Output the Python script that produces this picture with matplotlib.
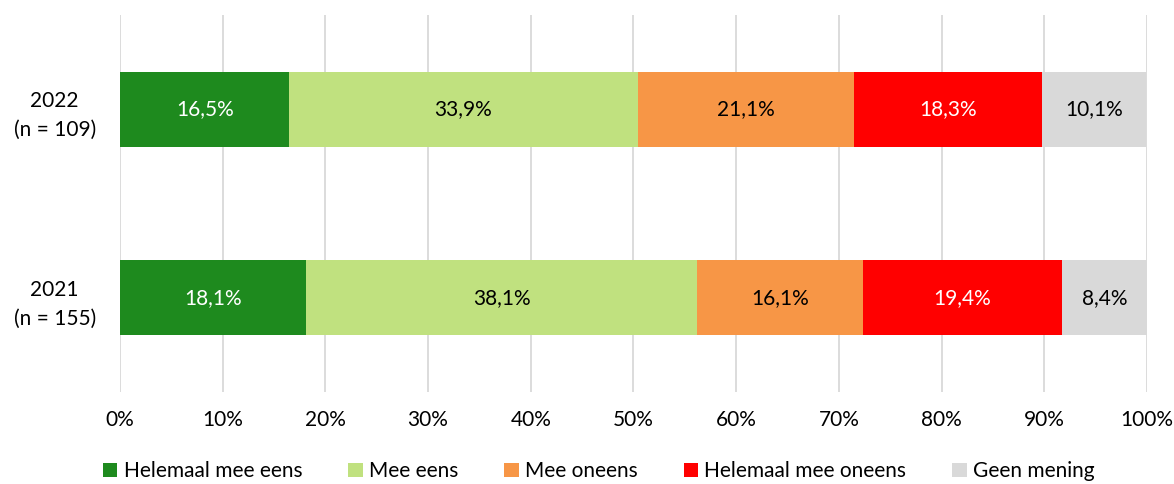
import matplotlib
matplotlib.use("Agg")
import matplotlib.pyplot as plt
import numpy as np

plt.rcParams['font.family'] = ['Lato', 'DejaVu Sans']

years = ["2021\n(n = 155)", "2022\n(n = 109)"]
categories = ["Helemaal mee eens", "Mee eens", "Mee oneens", "Helemaal mee oneens", "Geen mening"]
values = {
    "Helemaal mee eens": [18.1, 16.5],
    "Mee eens": [38.1, 33.9],
    "Mee oneens": [16.1, 21.1],
    "Helemaal mee oneens": [19.4, 18.3],
    "Geen mening": [8.4, 10.1],
}
colors = ["#1E8A1E", "#C0E17F", "#F79646", "#FF0000", "#D9D9D9"]
text_colors = ["white", "black", "black", "white", "black"]

fig = plt.figure(figsize=(11.74, 4.84), dpi=100)
ax = fig.add_axes([0.1022, 0.19, 0.8748, 0.779])

y = np.arange(len(years))
left = np.zeros(len(years))
for cat, col, tc in zip(categories, colors, text_colors):
    vals = np.array(values[cat])
    ax.barh(y, vals, left=left, height=0.4, color=col, label=cat, zorder=3)
    for yi, v, l in zip(y, vals, left):
        ax.text(l + v / 2, yi, f"{v:.1f}%".replace(".", ","), ha="center", va="center",
                color=tc, fontsize=15, zorder=4)
    left += vals

ax.set_xlim(0, 100)
ax.set_ylim(-0.5, 1.5)
ax.set_xticks(np.arange(0, 101, 10))
ax.set_xticklabels([f"{t}%" for t in range(0, 101, 10)], fontsize=15)
ax.set_yticks(y)
ax.set_yticklabels(years, fontsize=15, ha="center", linespacing=1.55)
ax.tick_params(axis="y", length=0, pad=47)
ax.tick_params(axis="x", length=0, pad=13)
ax.grid(axis="x", color="#D9D9D9", linewidth=1.3, zorder=0)
for s in ax.spines.values():
    s.set_visible(False)

fig.legend(loc="center", bbox_to_anchor=(0.51, 0.026), ncol=5, frameon=False,
           fontsize=15, handlelength=0.7, handleheight=0.7, handletextpad=0.3,
           columnspacing=2.2, borderpad=0)

fig.savefig("out.png", dpi=100)
